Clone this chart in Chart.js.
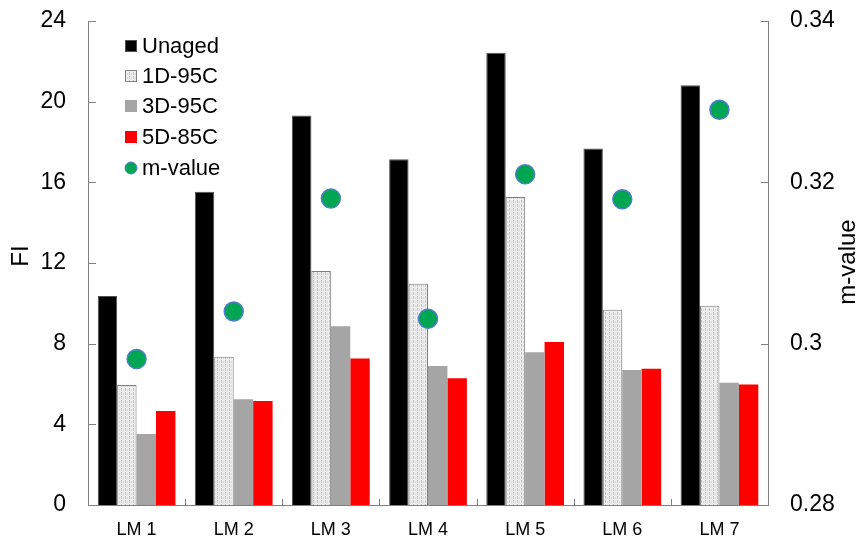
<!DOCTYPE html>
<html>
<head>
<meta charset="utf-8">
<script src="https://cdn.jsdelivr.net/npm/chart.js@4"></script>
<style>
  html, body { margin: 0; padding: 0; background: #fff; }
  #wrap { width: 858px; height: 540px; position: relative; }
</style>
</head>
<body>
<div id="wrap"><canvas id="chartFI"></canvas></div>
<script>
// ===== data =====
const categories = ['LM 1', 'LM 2', 'LM 3', 'LM 4', 'LM 5', 'LM 6', 'LM 7'];
const unaged   = [10.36, 15.53, 19.32, 17.14, 22.43, 17.68, 20.82];
const d1_95C   = [5.95, 7.35, 11.6, 10.97, 15.27, 9.68, 9.88];
const d3_95C   = [3.52, 5.24, 8.86, 6.89, 7.57, 6.69, 6.06];
const d5_85C   = [4.66, 5.16, 7.27, 6.28, 8.08, 6.76, 5.98];
const mValue   = [0.2981, 0.3040, 0.3180, 0.3031, 0.3210, 0.3179, 0.3290];
const fiTicks  = { min: 0, max: 24, step: 4 };
const mTicks   = { min: 0.28, max: 0.34, step: 0.02 };

const FONT = "'Liberation Sans', Arial, sans-serif";
const AXIS = '#808080';

// hatched fill for 1D-95C
function makeHatch() {
  const c = document.createElement('canvas');
  c.width = 4; c.height = 4;
  const g = c.getContext('2d');
  g.fillStyle = '#eeeeee';
  g.fillRect(0, 0, 4, 4);
  g.fillStyle = '#c4c4c4';
  g.fillRect(1, 0, 1, 3);
  g.fillStyle = '#dadada';
  g.fillRect(3, 1, 1, 2);
  return g.createPattern(c, 'repeat');
}
const hatch = makeHatch();

// fixed box sizes so the plot area sits where the original one does
const fixBox = (w, h) => s => {
  if (w != null) s.width = w;
  if (h != null) s.height = h;
  s.paddingTop = 0; s.paddingBottom = 0;
  s.paddingLeft = 0; s.paddingRight = 0;
};

// ===== axis lines, inward ticks, titles, legend =====
const decorPlugin = {
  id: 'decor',
  afterDraw(chart) {
    const { ctx, chartArea: a, scales } = chart;
    ctx.save();
    ctx.strokeStyle = AXIS;
    ctx.lineWidth = 1;
    ctx.beginPath();
    ctx.moveTo(a.left + 0.5, a.top);
    ctx.lineTo(a.left + 0.5, a.bottom + 0.5);
    ctx.lineTo(a.right + 0.5, a.bottom + 0.5);
    ctx.lineTo(a.right + 0.5, a.top);
    scales.y.ticks.forEach(t => {
      const y = Math.round(scales.y.getPixelForValue(t.value)) + 0.5;
      ctx.moveTo(a.left, y); ctx.lineTo(a.left + 8, y);
    });
    scales.y2.ticks.forEach(t => {
      const y = Math.round(scales.y2.getPixelForValue(t.value)) + 0.5;
      ctx.moveTo(a.right - 7, y); ctx.lineTo(a.right + 1, y);
    });
    const w = (a.right - a.left) / categories.length;
    for (let i = 1; i < categories.length; i++) {
      const x = Math.round(a.left + i * w) + 0.5;
      ctx.moveTo(x, a.bottom); ctx.lineTo(x, a.bottom - 6);
    }
    ctx.stroke();

    // axis titles
    ctx.fillStyle = '#000';
    ctx.textAlign = 'center';
    ctx.textBaseline = 'middle';
    ctx.font = '24px ' + FONT;
    ctx.save();
    ctx.translate(21, 256);
    ctx.rotate(-Math.PI / 2);
    ctx.fillText('FI', 0, 0);
    ctx.restore();
    ctx.save();
    ctx.translate(848, 262);
    ctx.rotate(-Math.PI / 2);
    ctx.fillText('m-value', 0, 0);
    ctx.restore();

    // legend
    ctx.font = '22px ' + FONT;
    ctx.textAlign = 'left';
    const rows = [46, 76, 106, 137, 168];
    chart.data.datasets.forEach((ds, i) => {
      const y = rows[i];
      if (ds.type === 'line') {
        ctx.beginPath();
        ctx.arc(131, y, 6, 0, Math.PI * 2);
        ctx.fillStyle = ds.pointBackgroundColor;
        ctx.fill();
        ctx.strokeStyle = ds.pointBorderColor;
        ctx.lineWidth = 1;
        ctx.stroke();
      } else {
        ctx.fillStyle = ds.backgroundColor;
        ctx.fillRect(125, y - 6, 12, 12);
        if (ds.borderWidth) {
          ctx.strokeStyle = ds.borderColor;
          ctx.lineWidth = 1;
          ctx.strokeRect(125.5, y - 5.5, 11, 11);
        }
      }
      ctx.fillStyle = '#000';
      ctx.fillText(ds.label, 142, y + 1);
    });
    ctx.restore();
  }
};

new Chart(document.getElementById('chartFI'), {
  type: 'bar',
  data: {
    labels: categories,
    datasets: [
      { label: 'Unaged', data: unaged, backgroundColor: '#000000', borderColor: '#505050', borderWidth: 1, order: 1 },
      { label: '1D-95C', data: d1_95C, backgroundColor: hatch, borderColor: '#7f7f7f', borderWidth: 1, order: 1 },
      { label: '3D-95C', data: d3_95C, backgroundColor: '#a5a5a5', borderWidth: 0, order: 1 },
      { label: '5D-85C', data: d5_85C, backgroundColor: '#ff0000', borderWidth: 0, order: 1 },
      {
        label: 'm-value', type: 'line', data: mValue, yAxisID: 'y2',
        showLine: false, pointRadius: 9.5, pointHoverRadius: 9.5,
        pointBackgroundColor: '#00a651', pointBorderColor: '#4f7fc8', pointBorderWidth: 1.5,
        order: 0
      }
    ]
  },
  plugins: [decorPlugin],
  options: {
    responsive: true,
    maintainAspectRatio: false,
    animation: false,
    layout: { padding: { top: 21, left: 0, right: 0, bottom: 0 } },
    datasets: { bar: { categoryPercentage: 0.8, barPercentage: 1.0 } },
    plugins: { legend: { display: false }, tooltip: { enabled: false } },
    scales: {
      x: {
        grid: { display: false, drawTicks: false },
        border: { display: false },
        ticks: { color: '#000', font: { family: FONT, size: 18 }, padding: 14, maxRotation: 0 },
        afterFit: fixBox(null, 35)
      },
      y: {
        position: 'left',
        min: fiTicks.min, max: fiTicks.max,
        grid: { display: false, drawTicks: false },
        border: { display: false },
        ticks: { stepSize: fiTicks.step, color: '#000', font: { family: FONT, size: 23 }, padding: 22 },
        afterFit: fixBox(88, null)
      },
      y2: {
        position: 'right',
        min: mTicks.min, max: mTicks.max,
        grid: { display: false, drawTicks: false },
        border: { display: false },
        ticks: {
          stepSize: mTicks.step, color: '#000', font: { family: FONT, size: 23 }, padding: 22,
          callback: v => String(+v.toFixed(2))
        },
        afterFit: fixBox(90, null)
      }
    }
  }
});
</script>
</body>
</html>
